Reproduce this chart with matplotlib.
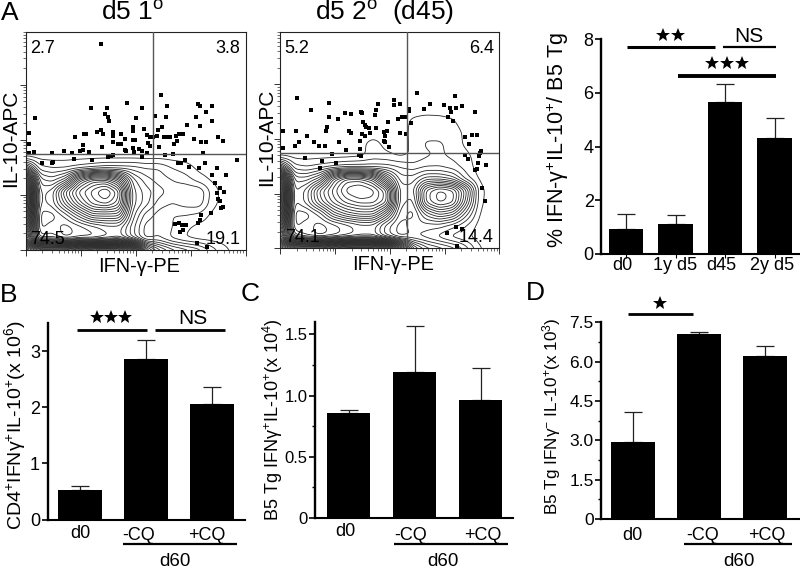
import numpy as np
import matplotlib
matplotlib.use("Agg")
import matplotlib.pyplot as plt
from matplotlib.transforms import ScaledTranslation

plt.rcParams['font.family'] = ['Liberation Sans', 'DejaVu Sans']
plt.rcParams['mathtext.fontset'] = 'custom'
plt.rcParams['mathtext.rm'] = 'Liberation Sans'
plt.rcParams['mathtext.it'] = 'Liberation Sans'
plt.rcParams['mathtext.bf'] = 'Liberation Sans'
plt.rcParams['mathtext.default'] = 'rm'

# ---------------- data: flow plots (channel units, 165 channels per decade) --------
flow1_x = [225,407,304,195,245,350,423,517,522,558,540,27,239,247,330,387,421,512,559,251,523,485,410,396,323,321,354,226,213,233,261,285,9,149,175,181,261,298,321,328,363,373,381,393,414,423,433,450,461,473,445,453,506,526,540,576,592,9,26,171,228,261,276,285,298,323,326,341,348,368,373,401,418,443,533,9,78,115,138,163,171,191,49,78,83,145,198,248,256,261,301,348,363,458,466,478,491,520,538,573,600,633,559,568,583,596,575,578,583,593,585,557,526,523,518,448,460,468,481,471,463,513,545]
flow1_y = [618,464,441,424,424,424,431,438,430,431,413,394,406,399,394,401,397,399,386,385,371,373,369,359,367,355,361,358,352,346,352,348,349,339,346,346,340,332,330,329,344,337,337,340,338,339,338,340,348,347,318,326,331,324,324,337,327,318,295,316,310,323,319,319,301,307,295,303,297,320,313,309,285,288,290,290,290,298,292,298,300,295,261,260,265,272,270,280,282,284,298,280,290,261,261,270,250,246,261,247,224,270,225,202,185,174,170,152,148,130,125,112,105,90,82,78,82,75,76,60,55,22,10]
flow2_x = [50,147,94,196,214,242,246,287,286,293,344,343,362,388,389,413,434,451,492,512,527,531,548,514,586,147,174,249,254,259,267,287,324,354,366,375,393,504,521,9,47,142,139,207,212,246,254,269,321,314,317,361,379,81,57,102,44,9,116,136,177,198,239,239,312,317,327,557,577,592,569,601,606,157,236,244,74,127,167,119,557,566,599,596,621,594,586,609,616,529,549,503,534]
flow2_y = [453,440,418,407,405,410,407,417,403,437,448,433,435,422,413,468,422,435,433,425,460,423,429,410,410,395,391,380,373,367,364,363,380,391,395,397,378,397,385,355,355,365,353,355,348,345,340,348,355,350,340,347,345,338,322,322,308,303,308,310,320,298,325,300,325,320,307,337,342,342,315,287,294,285,282,280,273,264,257,242,283,271,280,258,252,240,235,182,143,65,57,45,8]
flow1_labels = ["2.7", "3.8", "74.5", "19.1"]
flow2_labels = ["5.2", "6.4", "74.1", "14.4"]

# contour height (number of contour lines crossed) on a channel grid
grid_x = [0, 40, 80, 120, 160, 200, 240, 280, 320, 360, 400, 440, 480, 520, 560, 600, 640]
grid1_y = [0, 35, 70, 105, 140, 175, 210, 245, 280]
grid1 = [
    [34, 30, 30, 30, 32, 34, 34, 34, 28, 12, 8, 6, 5, 4, 2, 0.7, 0],
    [20, 7, 7, 5, 6, 6, 7, 8, 5, 2, 2.5, 1.2, 0.4, 0, 0, 0, 0],
    [26, 5, 6, 5, 6, 7, 8, 8, 5, 2, 2.5, 1.5, 0.7, 0.2, 0, 0, 0],
    [30, 5, 5, 7, 10, 13, 13, 13, 6, 3, 2, 1.5, 1.5, 1.2, 0.2, 0, 0],
    [32, 6, 7, 11, 15, 18, 19, 17, 7, 5, 3, 2.5, 3, 3.2, 0.8, 0, 0],
    [32, 6, 7, 13, 17, 19, 21, 18, 7, 5, 4, 3, 3.5, 3.5, 1, 0, 0],
    [24, 5, 4, 6, 13, 16, 16, 13, 6, 4, 3, 2.5, 2, 1, 0.3, 0, 0],
    [8, 2, 1.5, 1.5, 2, 2.5, 3, 3, 3, 2.5, 2.5, 1.5, 1, 0.2, 0, 0, 0],
    [0, 0, 0, 0, 0, 0, 0, 0, 0, 0, 0, 0, 0, 0, 0, 0, 0],
]
grid2_y = [0, 35, 70, 105, 140, 175, 210, 245, 280, 315, 350, 385, 420]
grid2 = [
    [34, 30, 30, 30, 32, 34, 34, 34, 30, 20, 10, 7, 6, 5, 3, 0.6, 0],
    [22, 8, 6, 5, 6, 7, 8, 8, 5, 3, 3.5, 3, 2, 1, 0.6, 0, 0],
    [26, 5, 6, 5, 6, 7, 8, 8, 5, 3, 4, 4, 4, 3, 1.5, 0.1, 0],
    [30, 5, 5, 7, 11, 13, 14, 14, 10, 4, 3, 7, 9, 8, 4, 0.4, 0],
    [32, 6, 8, 12, 15, 17, 18, 18, 16, 5, 4, 12, 14, 13, 7, 0.7, 0],
    [32, 6, 8, 13, 16, 19, 20, 19, 16, 5, 5, 12, 14, 13, 8, 0.8, 0],
    [24, 5, 5, 7, 14, 17, 17, 15, 9, 4, 4, 6, 6, 5, 2, 0.3, 0],
    [8, 2, 1.5, 2, 2.5, 3, 3, 3, 3, 2.5, 2, 2.5, 2.5, 2, 1, 0, 0],
    [0, 0, 0, 0, 0, 0, 0.2, 0.9, 0.7, 0.3, 0.6, 1.3, 1.7, 1.2, 0.7, 0.1, 0],
    [0, 0, 0, 0, 0, 0, 0.2, 0.9, 0.2, 0.1, 0.7, 1.7, 1.7, 1.0, 0.3, 0, 0],
    [0, 0, 0, 0, 0, 0, 0, 0, 0, 0, 0.8, 1.0, 1.0, 0.9, 0.3, 0, 0],
    [0, 0, 0, 0, 0, 0, 0, 0, 0, 0, 0.7, 1.0, 0.9, 0.6, 0, 0, 0],
    [0, 0, 0, 0, 0, 0, 0, 0, 0, 0, 0, 0, 0, 0, 0, 0, 0],
]

# ---------------- data: bar panels --------
a_labels = ["d0", "1y d5", "d45", "2y d5"]
a_vals = [0.93, 1.12, 5.65, 4.32]
a_tops = [1.50, 1.47, 6.35, 5.07]
b_labels = ["d0", "-CQ", "+CQ"]
b_vals = [0.53, 2.86, 2.05]
b_tops = [0.60, 3.20, 2.36]
c_labels = ["d0", "-CQ", "+CQ"]
c_vals = [0.855, 1.195, 0.965]
c_tops = [0.885, 1.57, 1.225]
d_labels = ["d0", "-CQ", "+CQ"]
d_vals = [2.93, 7.05, 6.20]
d_tops = [4.08, 7.12, 6.58]

W, H = 800, 569
fig = plt.figure(figsize=(8, 5.69), dpi=100)

def rect(l, t, r, b):
    return [l / W, 1 - b / H, (r - l) / W, (b - t) / H]

def ftext(x, y, s, **kw):
    kw.setdefault('ha', 'center')
    kw.setdefault('va', 'center')
    return fig.text(x / W, 1 - y / H, s, **kw)

def pxline(x0, x1, y, lw=2.0, color='black'):
    fig.add_artist(plt.Line2D([x0 / W, x1 / W], [1 - y / H] * 2, lw=lw, color=color,
                              solid_capstyle='butt', transform=fig.transFigure))

def smooth_surface(gx, gy, table, sigma=8.0, step=3.0):
    fx = np.arange(0, 660 + step, step)
    fy = np.arange(0, gy[-1] + 120, step)
    t = np.asarray(table, float)
    # resample the table on a fine grid, then soften the facets
    a = np.array([np.interp(fx, gx, row) for row in t])
    b = np.array([np.interp(fy, gy, col, right=0) for col in a.T]).T
    n = int(3 * sigma / step)
    k = np.exp(-0.5 * (np.arange(-n, n + 1) * step / sigma) ** 2)
    k /= k.sum()
    pad = np.pad(b, n, mode='edge')
    pad = np.apply_along_axis(lambda v: np.convolve(v, k, mode='same'), 0, pad)
    pad = np.apply_along_axis(lambda v: np.convolve(v, k, mode='same'), 1, pad)
    return fx, fy, pad[n:-n, n:-n]

def flow(rc, xs, ys, labels, gy, table, gate):
    ax = fig.add_axes(rect(*rc))
    ax.set_xlim(0, 660)
    ax.set_ylim(0, 653)
    fx, fy, Z = smooth_surface(grid_x, gy, table)
    ax.contour(fx, fy, Z, levels=np.arange(0.5, 34, 1.0), colors='#262626', linewidths=0.6)
    ax.scatter(xs, ys, marker='s', s=5, color='black', linewidths=0, zorder=3)
    ax.axvline(gate[0], color='#555555', lw=1.0, zorder=4)
    ax.axhline(gate[1], color='#555555', lw=1.0, zorder=4)
    major = np.arange(5) * 165.0
    minor = np.concatenate([(d + np.log10(np.arange(2, 10))) * 165.0 for d in range(4)])
    ax.set_xticks(major)
    ax.set_yticks(major[major <= 653])
    ax.set_xticks(minor, minor=True)
    ax.set_yticks(minor[minor <= 653], minor=True)
    ax.set_xticklabels([])
    ax.set_yticklabels([])
    ax.tick_params(which='major', length=4, width=0.7, color='#333333')
    ax.tick_params(which='minor', length=2, width=0.5, color='#333333')
    for sp in ax.spines.values():
        sp.set_linewidth(0.8)
        sp.set_color('#222222')
    fs = 13
    ax.text(0.02, 0.965, labels[0], transform=ax.transAxes, fontsize=fs, ha='left', va='top', zorder=5)
    ax.text(0.975, 0.965, labels[1], transform=ax.transAxes, fontsize=fs, ha='right', va='top', zorder=5)
    ax.text(0.02, 0.05, labels[2], transform=ax.transAxes, fontsize=fs, ha='left', va='center', zorder=5)
    ax.text(0.975, 0.05, labels[3], transform=ax.transAxes, fontsize=fs, ha='right', va='center', zorder=5)
    return ax

flow((25.7, 32, 245.7, 250), flow1_x, flow1_y, flow1_labels, grid1_y, grid1, (381, 288))
flow((280.3, 32, 499.3, 248.3), flow2_x, flow2_y, flow2_labels, grid2_y, grid2, (381, 288))

def bars(rc, vals, tops, labels, ylim, yticks, ytl, minor, width, x0, unit, dxs, dys, pad, xtick_len=0, yfs=13):
    ax = fig.add_axes(rect(*rc))
    ax.patch.set_alpha(0)
    xpos = np.arange(len(vals))
    ax.bar(xpos, vals, width=width, color='black', linewidth=0, zorder=2)
    err = np.array(tops) - np.array(vals)
    ax.errorbar(xpos, vals, yerr=[np.zeros_like(err), err], fmt='none', ecolor='#222222',
                elinewidth=0.9, capsize=6.2, capthick=0.9, zorder=1)
    ax.set_xlim((rc[0] - x0) / unit, (rc[2] - x0) / unit)
    ax.set_ylim(*ylim)
    for s in ('top', 'right'):
        ax.spines[s].set_visible(False)
    ax.spines['left'].set_linewidth(1.7)
    ax.spines['bottom'].set_linewidth(1.5)
    ax.set_yticks(yticks)
    ax.set_yticklabels(ytl, fontsize=yfs)
    if minor is not None:
        ax.set_yticks(minor, minor=True)
    ax.tick_params(axis='y', which='major', length=4.5, width=1.2, pad=1)
    ax.tick_params(axis='y', which='minor', length=2.5, width=1.0)
    ax.set_xticks(xpos)
    ax.set_xticklabels(labels, fontsize=13)
    ax.tick_params(axis='x', length=xtick_len, width=0.8, pad=pad)
    for t, d, e in zip(ax.get_xticklabels(), dxs, dys):
        t.set_transform(t.get_transform() + ScaledTranslation(d / 100, e / 100, fig.dpi_scale_trans))
    return ax

axA = bars((601.3, 39.3, 800, 254), a_vals, a_tops, a_labels, (0, 8), [0, 2, 4, 6, 8],
           ['0', '2', '4', '6', '8'], None, 0.687, 626, 49.5, [-4, -0.5, -3.5, -2], [0, 0, 0, 0], -0.5, 3)
axB = bars((47.7, 322.7, 245, 519.7), b_vals, b_tops, b_labels, (0, 3.505), [0, 1, 2, 3],
           ['0', '1', '2', '3'], None, 0.665, 80, 65.9, [0, -7, -5], [0, -2, -2], 4)
axC = bars((315, 321.7, 513.3, 518), c_vals, c_tops, c_labels, (0, 1.603), [0, 0.5, 1.0, 1.5],
           ['0', '0.5', '1.0', '1.5'], [0.25, 0.75, 1.25], 0.665, 348.5, 66, [-3, -4, 2.5], [0, -4, -4], 3.5, 0, 12)
axD = bars((601.3, 322.3, 800, 519), d_vals, d_tops, d_labels, (0, 7.5), [0, 1.5, 3, 4.5, 6, 7.5],
           ['0', '1.5', '3.0', '4.5', '6.0', '7.5'], [0.75, 2.25, 3.75, 5.25, 6.75], 0.665, 632.8, 65.9,
           [0, 4, 2], [0, 0, 0], 5.5, 0, 12.5)

# brackets and significance marks
pxline(626.7, 715, 47.3, 2.2)
pxline(722.7, 776, 47.3, 1.6)
pxline(677.7, 776, 75.7, 2.8)
pxline(76.7, 146.7, 330, 2.0)
pxline(155, 225, 330, 2.0)
pxline(627.7, 693.3, 314.3, 2.0)
pxline(122.7, 236.7, 544, 1.6)
pxline(394.3, 508.3, 544, 1.6)
pxline(684, 791.7, 544, 1.6)

def stars(x, y, n, gap):
    for i in range(n):
        fig.add_artist(plt.Line2D([(x + (i - (n - 1) / 2) * gap) / W], [1 - y / H], marker='*',
                                  markersize=10, color='black', markeredgewidth=0, linestyle='none',
                                  transform=fig.transFigure))
stars(670, 35, 2, 15)
stars(726.7, 62.5, 3, 15)
stars(111, 317, 3, 14.5)
stars(660, 302.5, 1, 15)
ftext(749, 36, "NS", fontsize=15)
ftext(192.7, 319, "NS", fontsize=15)

ftext(10, 13, "A", fontsize=19)
ftext(9, 295, "B", fontsize=19)
ftext(250, 294, "C", fontsize=19)
ftext(535, 293, "D", fontsize=19)
ftext(133, 13, "d5 1$^{\\mathrm{o}}$", fontsize=19)
ftext(385, 13, "d5 2$^{\\mathrm{o}}$  (d45)", fontsize=19)

ftext(11, 138, "IL-10-APC", fontsize=15, rotation=90)
ftext(267, 137, "IL-10-APC", fontsize=15, rotation=90)
ftext(139, 266, "IFN-\u03b3-PE", fontsize=14.4)
ftext(393, 264, "IFN-\u03b3-PE", fontsize=14.4)

ftext(558, 140, "% IFN-\u03b3$^{+}$IL-10$^{+}$/ B5 Tg", fontsize=15.5, rotation=90)
ftext(15, 425, "CD4$^{+}$IFN\u03b3$^{+}$IL-10$^{+}$(x 10$^{6}$)", fontsize=14, rotation=90)
ftext(273, 420, "B5 Tg IFN\u03b3$^{+}$IL-10$^{+}$(x 10$^{4}$)", fontsize=13, rotation=90)
ftext(552, 416, "B5 Tg IFN\u03b3$^{-}$ IL-10$^{+}$(x 10$^{3}$)", fontsize=12.3, rotation=90)

ftext(175, 562, "d60", fontsize=13.5)
ftext(442.7, 562, "d60", fontsize=13.5)
ftext(739, 562, "d60", fontsize=13.5)

fig.savefig("out.png", dpi=100)
